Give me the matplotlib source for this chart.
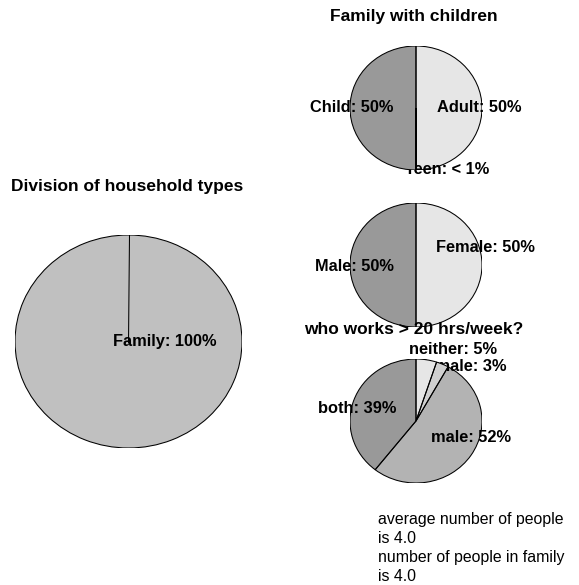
import numpy as np
import matplotlib
matplotlib.use('Agg')
import matplotlib.pyplot as plt
from matplotlib.patches import Wedge

plt.rcParams['font.family'] = ['Liberation Sans', 'DejaVu Sans']

# data
household_labels = ['Family: 100%']
household_values = [100]

kids_labels = ['Adult: 50%', 'Teen: < 1%', 'Child: 50%']
kids_values = [49.9, 0.2, 49.9]

gender_labels = ['Female: 50%', 'Male: 50%']
gender_values = [50, 50]

work_labels = ['neither: 5%', 'female: 3%', 'male: 52%', 'both: 39%']
work_values = [5, 3, 52, 39]

footer = ['average number of people', 'is 4.0',
          'number of people in family', 'is 4.0']

W, H = 579, 585
fig = plt.figure(figsize=(W / 100, H / 100), dpi=100)

TITLE_SIZE = 12.5
LABEL_SIZE = 11.8


def pie_axes(left, top, width, height):
    return fig.add_axes([left / W, 1 - (top + height) / H, width / W, height / H])


def draw_pie(ax, values, labels, colors, nudges, wedge_z=None, label_z=None):
    wedges, _ = ax.pie(values, colors=colors, startangle=90, counterclock=False,
                       wedgeprops=dict(linewidth=0))
    ax.set_aspect('auto')
    ax.set_xlim(-1, 1)
    ax.set_ylim(-1, 1)
    ax.axis('off')
    n = len(values)
    wedge_z = wedge_z or [1] * n
    label_z = label_z or [4] * n
    for w, z in zip(wedges, wedge_z):
        w.set_zorder(z)
        ax.add_patch(Wedge(w.center, w.r, w.theta1, w.theta2, fill=False,
                           ec='black', lw=0.75, zorder=6))
        if n == 1:
            a = np.deg2rad(w.theta1)
            ax.plot([0, np.cos(a)], [0, np.sin(a)], color='black', lw=0.75, zorder=6)
    for w, lab, (dx, dy), z in zip(wedges, labels, nudges, label_z):
        mid = np.deg2rad((w.theta1 + w.theta2) / 2)
        ax.text(np.cos(mid) + dx, np.sin(mid) + dy, lab, ha='center', va='center',
                fontweight='bold', fontsize=LABEL_SIZE, zorder=z, clip_on=False)


ax0 = pie_axes(15, 235, 227, 213)
draw_pie(ax0, household_values, household_labels, ['#c0c0c0'], [(0.317, 1.0)])
fig.text(127 / W, 1 - 187 / H, 'Division of household types', ha='center',
         va='center', fontweight='bold', fontsize=TITLE_SIZE)

ax1 = pie_axes(350, 46, 132, 124)
draw_pie(ax1, kids_values, kids_labels, ['#e6e6e6', '#cccccc', '#999999'],
         [(-0.04, 0), (0.47, 0), (0.03, 0)],
         wedge_z=[0.3, 1, 1], label_z=[4, 0.5, 4])
fig.text(414 / W, 1 - 17 / H, 'Family with children', ha='center',
         va='center', fontweight='bold', fontsize=TITLE_SIZE)

ax2 = pie_axes(350, 203, 132, 124)
draw_pie(ax2, gender_values, gender_labels, ['#e6e6e6', '#999999'],
         [(0.05, 0.29), (0.06, -0.02)])

ax3 = pie_axes(350, 359, 132, 124)
draw_pie(ax3, work_values, work_labels, ['#e6e6e6', '#d0d0d0', '#b3b3b3', '#999999'],
         [(0.41, 0.17), (0.33, -0.03), (0.0, 0.29), (0.055, -0.12)],
         wedge_z=[1, 1, 0.3, 0.3], label_z=[4, 0.5, 4, 4])
fig.text(414 / W, 1 - 329.5 / H, 'who works > 20 hrs/week?', ha='center',
         va='center', fontweight='bold', fontsize=TITLE_SIZE)

fig.text(378 / W, 1 - 512 / H, '\n'.join(footer), ha='left', va='top',
         fontsize=11.4, linespacing=1.32)

fig.savefig('out.png', dpi=100, facecolor='white')
